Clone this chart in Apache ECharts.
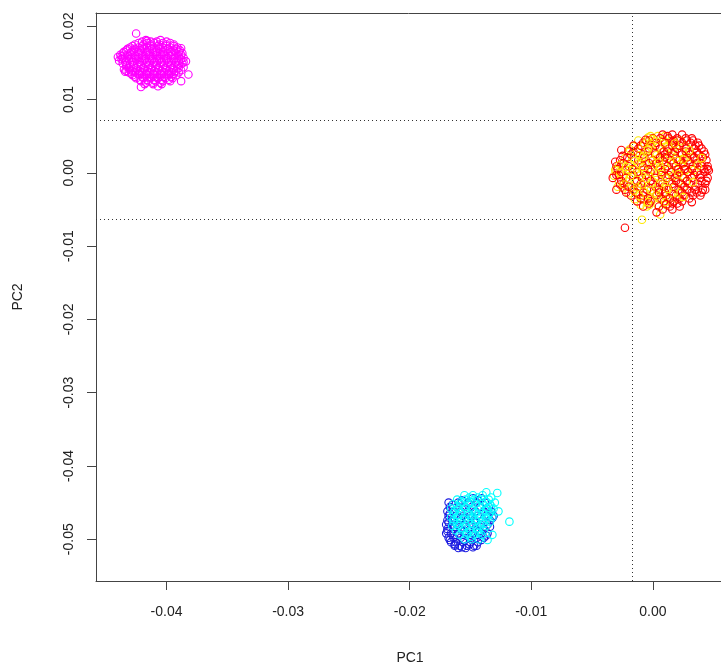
<!DOCTYPE html>
<html>
<head>
<meta charset="utf-8">
<script src="https://cdn.jsdelivr.net/npm/echarts@6/dist/echarts.min.js"></script>
<style>html,body{margin:0;padding:0;background:#fff}#c{width:721px;height:670px}</style>
</head>
<body>
<div id="c"></div>
<script>
// ---- data ----
var xTicks = [-0.04, -0.03, -0.02, -0.01, 0.00];
var yTicks = [-0.05, -0.04, -0.03, -0.02, -0.01, 0.00, 0.01, 0.02];
var hLines = [0.00723, -0.00628];
var vLines = [-0.0017];

var magenta = [
[-0.0417,0.0181],[-0.0405,0.0181],
[-0.0423,0.0177],[-0.0416,0.0177],[-0.0410,0.0177],[-0.0403,0.0177],[-0.0397,0.0177],
[-0.0428,0.0173],[-0.0420,0.0173],[-0.0413,0.0173],[-0.0407,0.0173],[-0.0400,0.0173],[-0.0394,0.0173],
[-0.0432,0.0169],[-0.0426,0.0169],[-0.0419,0.0169],[-0.0412,0.0169],[-0.0406,0.0169],[-0.0399,0.0169],[-0.0392,0.0169],[-0.0388,0.0170],
[-0.0435,0.0165],[-0.0429,0.0165],[-0.0423,0.0165],[-0.0416,0.0165],[-0.0409,0.0165],[-0.0403,0.0165],[-0.0396,0.0165],[-0.0390,0.0165],
[-0.0438,0.0161],[-0.0432,0.0161],[-0.0426,0.0161],[-0.0420,0.0161],[-0.0414,0.0161],[-0.0408,0.0161],[-0.0402,0.0161],[-0.0395,0.0161],[-0.0388,0.0161],
[-0.0436,0.0157],[-0.0429,0.0157],[-0.0423,0.0157],[-0.0417,0.0157],[-0.0411,0.0157],[-0.0405,0.0157],[-0.0399,0.0157],[-0.0393,0.0157],[-0.0386,0.0157],
[-0.0439,0.0153],[-0.0433,0.0153],[-0.0427,0.0153],[-0.0420,0.0153],[-0.0414,0.0153],[-0.0408,0.0153],[-0.0402,0.0153],[-0.0396,0.0153],[-0.0390,0.0153],[-0.0384,0.0152],
[-0.0436,0.0149],[-0.0430,0.0149],[-0.0424,0.0149],[-0.0417,0.0149],[-0.0411,0.0149],[-0.0405,0.0149],[-0.0399,0.0149],[-0.0393,0.0149],[-0.0387,0.0149],
[-0.0433,0.0145],[-0.0427,0.0145],[-0.0421,0.0145],[-0.0415,0.0145],[-0.0409,0.0145],[-0.0403,0.0145],[-0.0397,0.0145],[-0.0391,0.0145],[-0.0386,0.0144],
[-0.0435,0.0141],[-0.0430,0.0141],[-0.0424,0.0141],[-0.0418,0.0141],[-0.0412,0.0141],[-0.0406,0.0141],[-0.0400,0.0141],[-0.0394,0.0141],[-0.0388,0.0140],
[-0.0431,0.0137],[-0.0426,0.0137],[-0.0420,0.0137],[-0.0414,0.0137],[-0.0408,0.0137],[-0.0402,0.0137],[-0.0396,0.0137],[-0.0390,0.0137],
[-0.0428,0.0133],[-0.0422,0.0133],[-0.0416,0.0133],[-0.0410,0.0133],[-0.0404,0.0133],[-0.0398,0.0133],[-0.0392,0.0133],
[-0.0425,0.0129],[-0.0419,0.0129],[-0.0413,0.0129],[-0.0407,0.0129],[-0.0401,0.0129],[-0.0395,0.0129],
[-0.0421,0.0125],[-0.0415,0.0125],[-0.0409,0.0125],[-0.0403,0.0125],[-0.0397,0.0125],
[-0.0418,0.0121],[-0.0411,0.0121],[-0.0404,0.0121],
[-0.0420,0.0179],[-0.0413,0.0179],[-0.0408,0.0179],[-0.0400,0.0179],
[-0.0426,0.0175],[-0.0419,0.0175],[-0.0413,0.0175],[-0.0406,0.0175],[-0.0400,0.0175],[-0.0394,0.0175],
[-0.0430,0.0171],[-0.0423,0.0171],[-0.0416,0.0171],[-0.0410,0.0171],[-0.0403,0.0171],[-0.0397,0.0171],[-0.0391,0.0171],
[-0.0433,0.0167],[-0.0427,0.0167],[-0.0421,0.0167],[-0.0414,0.0167],[-0.0408,0.0167],[-0.0401,0.0167],[-0.0394,0.0167],[-0.0389,0.0167],
[-0.0436,0.0163],[-0.0430,0.0163],[-0.0423,0.0163],[-0.0417,0.0163],[-0.0411,0.0163],[-0.0405,0.0163],[-0.0399,0.0163],[-0.0392,0.0163],[-0.0387,0.0163],
[-0.0437,0.0159],[-0.0432,0.0159],[-0.0426,0.0159],[-0.0420,0.0159],[-0.0414,0.0159],[-0.0408,0.0159],[-0.0402,0.0159],[-0.0396,0.0159],[-0.0390,0.0159],
[-0.0437,0.0155],[-0.0431,0.0155],[-0.0425,0.0155],[-0.0418,0.0155],[-0.0412,0.0155],[-0.0406,0.0155],[-0.0400,0.0155],[-0.0394,0.0155],[-0.0388,0.0155],
[-0.0434,0.0151],[-0.0428,0.0151],[-0.0422,0.0151],[-0.0416,0.0151],[-0.0410,0.0151],[-0.0404,0.0151],[-0.0398,0.0151],[-0.0392,0.0151],[-0.0386,0.0151],
[-0.0433,0.0147],[-0.0427,0.0147],[-0.0421,0.0147],[-0.0414,0.0147],[-0.0408,0.0147],[-0.0402,0.0147],[-0.0396,0.0147],[-0.0390,0.0147],
[-0.0431,0.0143],[-0.0425,0.0143],[-0.0419,0.0143],[-0.0413,0.0143],[-0.0407,0.0143],[-0.0401,0.0143],[-0.0395,0.0143],[-0.0390,0.0143],
[-0.0433,0.0139],[-0.0428,0.0139],[-0.0422,0.0139],[-0.0416,0.0139],[-0.0410,0.0139],[-0.0404,0.0139],[-0.0398,0.0139],[-0.0392,0.0139],
[-0.0429,0.0135],[-0.0423,0.0135],[-0.0417,0.0135],[-0.0411,0.0135],[-0.0405,0.0135],[-0.0399,0.0135],[-0.0394,0.0135],
[-0.0426,0.0131],[-0.0420,0.0131],[-0.0414,0.0131],[-0.0408,0.0131],[-0.0402,0.0131],[-0.0396,0.0131],
[-0.0422,0.0127],[-0.0416,0.0127],[-0.0410,0.0127],[-0.0404,0.0127],[-0.0398,0.0127],
[-0.0417,0.0123],[-0.0411,0.0123],[-0.0405,0.0123],
[-0.0425,0.0190],[-0.0440,0.0158],[-0.0382,0.0134],[-0.0421,0.0117],[-0.0388,0.0125],[-0.0416,0.0180],[-0.0407,0.0118],[-0.0434,0.0138]
];

var yellow = [
[-0.0002,0.0050],[0.0004,0.0050],[0.0010,0.0050],
[-0.0012,0.0044],[-0.0005,0.0044],[0.0002,0.0044],[0.0009,0.0044],[0.0016,0.0044],[0.0023,0.0044],
[-0.0016,0.0036],[-0.0009,0.0036],[-0.0002,0.0036],[0.0005,0.0036],[0.0012,0.0036],[0.0019,0.0036],[0.0027,0.0036],
[-0.0020,0.0028],[-0.0013,0.0028],[-0.0006,0.0028],[0.0001,0.0028],[0.0008,0.0028],[0.0015,0.0028],[0.0022,0.0028],[0.0030,0.0028],
[-0.0023,0.0020],[-0.0016,0.0020],[-0.0009,0.0020],[-0.0002,0.0020],[0.0005,0.0020],[0.0012,0.0020],[0.0019,0.0020],[0.0026,0.0020],[0.0033,0.0020],
[-0.0026,0.0012],[-0.0019,0.0012],[-0.0012,0.0012],[-0.0005,0.0012],[0.0002,0.0012],[0.0009,0.0012],[0.0016,0.0012],[0.0023,0.0012],[0.0030,0.0012],
[-0.0030,0.0004],[-0.0022,0.0004],[-0.0015,0.0004],[-0.0008,0.0004],[-0.0001,0.0004],[0.0006,0.0004],[0.0013,0.0004],[0.0020,0.0004],[0.0027,0.0004],[0.0034,0.0004],
[-0.0032,-0.0004],[-0.0025,-0.0004],[-0.0018,-0.0004],[-0.0011,-0.0004],[-0.0004,-0.0004],[0.0003,-0.0004],[0.0010,-0.0004],[0.0017,-0.0004],[0.0024,-0.0004],[0.0031,-0.0004],
[-0.0028,-0.0012],[-0.0021,-0.0012],[-0.0014,-0.0012],[-0.0007,-0.0012],[0.0000,-0.0012],[0.0007,-0.0012],[0.0014,-0.0012],[0.0021,-0.0012],[0.0028,-0.0012],
[-0.0025,-0.0020],[-0.0017,-0.0020],[-0.0010,-0.0020],[-0.0003,-0.0020],[0.0004,-0.0020],[0.0011,-0.0020],[0.0018,-0.0020],[0.0025,-0.0020],
[-0.0020,-0.0028],[-0.0013,-0.0028],[-0.0006,-0.0028],[0.0001,-0.0028],[0.0008,-0.0028],[0.0015,-0.0028],[0.0022,-0.0028],
[-0.0015,-0.0036],[-0.0008,-0.0036],[-0.0001,-0.0036],[0.0006,-0.0036],[0.0013,-0.0036],[0.0020,-0.0036],
[-0.0010,-0.0044],[-0.0003,-0.0044],[0.0004,-0.0044],[0.0011,-0.0044],
[-0.0009,-0.0064],[0.0006,-0.0057],[-0.0005,-0.0046],[-0.0029,-0.0019],[-0.0031,0.0004],[-0.0004,0.0048],[0.0008,0.0045]
];

var red = [
[0.0008,0.0052],[0.0016,0.0052],[0.0024,0.0052],
[0.0000,0.0047],[0.0006,0.0047],[0.0013,0.0047],[0.0020,0.0047],[0.0027,0.0047],[0.0032,0.0047],
[-0.0008,0.0041],[0.0003,0.0041],[0.0010,0.0041],[0.0017,0.0041],[0.0024,0.0041],[0.0031,0.0041],[0.0037,0.0041],
[-0.0012,0.0033],[-0.0003,0.0033],[0.0006,0.0033],[0.0013,0.0033],[0.0020,0.0033],[0.0027,0.0033],[0.0034,0.0033],[0.0040,0.0033],
[-0.0018,0.0025],[-0.0008,0.0025],[0.0002,0.0025],[0.0010,0.0025],[0.0017,0.0025],[0.0024,0.0025],[0.0031,0.0025],[0.0038,0.0025],[0.0043,0.0025],
[-0.0027,0.0017],[-0.0012,0.0017],[0.0000,0.0017],[0.0008,0.0017],[0.0015,0.0017],[0.0022,0.0017],[0.0029,0.0017],[0.0036,0.0017],[0.0044,0.0017],
[-0.0030,0.0009],[-0.0020,0.0009],[-0.0008,0.0009],[0.0004,0.0009],[0.0012,0.0009],[0.0019,0.0009],[0.0026,0.0009],[0.0033,0.0009],[0.0040,0.0009],[0.0045,0.0009],
[-0.0026,0.0001],[-0.0013,0.0001],[-0.0002,0.0001],[0.0007,0.0001],[0.0015,0.0001],[0.0022,0.0001],[0.0029,0.0001],[0.0036,0.0001],[0.0043,0.0001],[0.0046,0.0003],
[-0.0033,-0.0007],[-0.0022,-0.0007],[-0.0009,-0.0007],[0.0002,-0.0007],[0.0011,-0.0007],[0.0018,-0.0007],[0.0025,-0.0007],[0.0032,-0.0007],[0.0039,-0.0007],[0.0045,-0.0007],
[-0.0024,-0.0015],[-0.0010,-0.0015],[0.0000,-0.0015],[0.0008,-0.0015],[0.0016,-0.0015],[0.0023,-0.0015],[0.0030,-0.0015],[0.0037,-0.0015],[0.0043,-0.0015],
[-0.0030,-0.0023],[-0.0016,-0.0023],[-0.0005,-0.0023],[0.0005,-0.0023],[0.0013,-0.0023],[0.0021,-0.0023],[0.0028,-0.0023],[0.0035,-0.0023],[0.0041,-0.0023],
[-0.0018,-0.0031],[-0.0008,-0.0031],[0.0003,-0.0031],[0.0011,-0.0031],[0.0019,-0.0031],[0.0026,-0.0031],[0.0033,-0.0031],[0.0039,-0.0031],
[-0.0013,-0.0039],[-0.0002,-0.0039],[0.0009,-0.0039],[0.0017,-0.0039],[0.0024,-0.0039],[0.0032,-0.0040],
[-0.0008,-0.0046],[0.0005,-0.0046],[0.0014,-0.0046],[0.0022,-0.0046],
[-0.0023,-0.0075],[0.0003,-0.0054],[0.0016,-0.0050],[0.0008,-0.0050],[-0.0026,0.0031],[-0.0020,0.0030],[-0.0031,0.0015],[-0.0027,-0.0016],[-0.0023,-0.0023],[0.0043,-0.0023]
];

var yellow2 = [
[-0.0019,0.0032],[-0.0011,0.0024],[-0.0004,0.0032],[0.0003,0.0024],[-0.0022,0.0008],[-0.0015,0.0016],[-0.0008,0.0008],[-0.0001,0.0016],
[0.0006,0.0008],[-0.0027,0.0000],[-0.0019,-0.0008],[-0.0012,0.0000],[-0.0005,-0.0008],[0.0002,0.0000],[-0.0024,-0.0016],[-0.0016,-0.0024],
[-0.0009,-0.0016],[-0.0002,-0.0024],[0.0005,-0.0016],[-0.0011,-0.0032],[-0.0004,-0.0040],[0.0003,-0.0032],[0.0010,-0.0040],[0.0009,0.0040],
[0.0014,0.0024],[0.0011,-0.0008],[-0.0007,0.0040],[0.0000,0.0046],[0.0017,-0.0028],[0.0020,0.0016]
];

var red2 = [
[0.0012,0.0050],[0.0020,0.0044],[0.0028,0.0044],[0.0035,0.0037],[0.0042,0.0029],[0.0027,0.0029],[0.0034,0.0021],[0.0040,0.0013],
[0.0045,0.0005],[0.0025,0.0013],[0.0032,0.0005],[0.0039,-0.0003],[0.0044,-0.0011],[0.0028,-0.0011],[0.0035,-0.0019],[0.0040,-0.0027],
[0.0024,-0.0027],[0.0030,-0.0035],[0.0020,-0.0042],[0.0011,-0.0043],[0.0017,-0.0019],[0.0014,-0.0035],[0.0005,-0.0027],[-0.0004,-0.0035],
[-0.0014,-0.0027],[-0.0020,-0.0019],[-0.0028,-0.0003],[-0.0025,0.0023],[-0.0016,0.0037],[-0.0006,0.0045],[0.0016,0.0037],[0.0009,0.0029],
[0.0021,0.0005],[0.0013,-0.0003],[0.0006,0.0021],[-0.0003,0.0013],[0.0018,0.0029],[0.0032,-0.0027]
];

var yellow3 = [
[0.0018,0.0040],[0.0030,0.0031],[0.0025,0.0018],[0.0037,0.0010],[0.0021,-0.0002],[0.0033,-0.0013],[0.0025,-0.0033],[0.0012,-0.0022],
[-0.0008,0.0022],[-0.0019,0.0004],[-0.0013,-0.0020],[0.0005,0.0014],[-0.0002,0.0040],[-0.0028,0.0010],[0.0040,0.0020]
];

var red3 = [
[-0.0003,0.0044],[0.0017,0.0044],[0.0033,0.0044],
[-0.0010,0.0037],[0.0002,0.0037],[0.0022,0.0037],[0.0038,0.0037],
[-0.0016,0.0029],[-0.0004,0.0029],[0.0012,0.0029],[0.0036,0.0029],
[-0.0021,0.0021],[-0.0007,0.0021],[0.0010,0.0021],[0.0028,0.0021],[0.0041,0.0021],
[-0.0024,0.0013],[-0.0010,0.0013],[0.0003,0.0013],[0.0017,0.0013],[0.0036,0.0013],
[-0.0029,0.0005],[-0.0017,0.0005],[-0.0004,0.0005],[0.0010,0.0005],[0.0026,0.0005],[0.0042,0.0005],
[-0.0030,-0.0003],[-0.0016,-0.0003],[-0.0006,-0.0003],[0.0007,-0.0003],[0.0020,-0.0003],[0.0034,-0.0003],
[-0.0026,-0.0011],[-0.0013,-0.0011],[-0.0002,-0.0011],[0.0019,-0.0011],[0.0040,-0.0011],
[-0.0012,-0.0019],[0.0002,-0.0019],[0.0009,-0.0019],[0.0026,-0.0019],
[-0.0022,-0.0027],[-0.0008,-0.0027],[0.0010,-0.0027],[0.0036,-0.0027],
[-0.0010,-0.0035],[0.0007,-0.0035],[0.0022,-0.0035],
[-0.0003,-0.0042],[0.0016,-0.0042]
];

var blue = [
[-0.0148,-0.0444],[-0.0141,-0.0444],
[-0.0168,-0.0450],[-0.0160,-0.0450],[-0.0152,-0.0450],[-0.0145,-0.0450],[-0.0138,-0.0450],
[-0.0167,-0.0456],[-0.0161,-0.0456],[-0.0155,-0.0456],[-0.0149,-0.0456],[-0.0142,-0.0456],[-0.0135,-0.0456],
[-0.0169,-0.0462],[-0.0164,-0.0462],[-0.0158,-0.0462],[-0.0152,-0.0462],[-0.0146,-0.0462],[-0.0139,-0.0462],[-0.0133,-0.0462],
[-0.0168,-0.0468],[-0.0162,-0.0468],[-0.0156,-0.0468],[-0.0150,-0.0468],[-0.0144,-0.0468],[-0.0137,-0.0468],[-0.0131,-0.0468],
[-0.0169,-0.0474],[-0.0165,-0.0474],[-0.0159,-0.0474],[-0.0153,-0.0474],[-0.0147,-0.0474],[-0.0140,-0.0474],[-0.0134,-0.0474],
[-0.0170,-0.0480],[-0.0165,-0.0480],[-0.0161,-0.0480],[-0.0155,-0.0480],[-0.0149,-0.0480],[-0.0142,-0.0480],[-0.0136,-0.0480],
[-0.0169,-0.0486],[-0.0164,-0.0486],[-0.0158,-0.0486],[-0.0152,-0.0486],[-0.0146,-0.0486],[-0.0139,-0.0486],
[-0.0170,-0.0492],[-0.0166,-0.0492],[-0.0160,-0.0492],[-0.0154,-0.0492],[-0.0148,-0.0492],[-0.0141,-0.0492],[-0.0136,-0.0492],
[-0.0168,-0.0498],[-0.0164,-0.0498],[-0.0158,-0.0498],[-0.0151,-0.0498],[-0.0145,-0.0498],[-0.0139,-0.0498],
[-0.0166,-0.0504],[-0.0162,-0.0504],[-0.0156,-0.0504],[-0.0150,-0.0504],[-0.0144,-0.0504],
[-0.0163,-0.0509],[-0.0159,-0.0509],[-0.0153,-0.0509],[-0.0147,-0.0509],
[-0.0160,-0.0512],[-0.0154,-0.0512],[-0.0148,-0.0511],
[-0.0165,-0.0453],[-0.0157,-0.0447],[-0.0167,-0.0465],[-0.0168,-0.0477],[-0.0169,-0.0489],[-0.0167,-0.0501],[-0.0163,-0.0507],[-0.0157,-0.0511],
[-0.0151,-0.0507],[-0.0145,-0.0509],[-0.0141,-0.0501],[-0.0137,-0.0495],[-0.0161,-0.0495],[-0.0155,-0.0489],[-0.0149,-0.0495],[-0.0143,-0.0489],
[-0.0134,-0.0483],[-0.0132,-0.0471],[-0.0136,-0.0459],[-0.0144,-0.0447],[-0.0152,-0.0453],[-0.0158,-0.0471],[-0.0146,-0.0477],[-0.0163,-0.0483]
];

var cyan = [
[-0.0155,-0.0440],[-0.0148,-0.0440],[-0.0140,-0.0440],
[-0.0161,-0.0446],[-0.0154,-0.0446],[-0.0147,-0.0446],[-0.0141,-0.0446],[-0.0135,-0.0446],
[-0.0164,-0.0452],[-0.0158,-0.0452],[-0.0152,-0.0452],[-0.0146,-0.0452],[-0.0140,-0.0452],[-0.0134,-0.0452],
[-0.0166,-0.0458],[-0.0160,-0.0458],[-0.0154,-0.0458],[-0.0148,-0.0458],[-0.0142,-0.0458],[-0.0136,-0.0458],[-0.0131,-0.0458],
[-0.0164,-0.0464],[-0.0158,-0.0464],[-0.0152,-0.0464],[-0.0146,-0.0464],[-0.0140,-0.0464],[-0.0134,-0.0464],
[-0.0166,-0.0470],[-0.0161,-0.0470],[-0.0155,-0.0470],[-0.0149,-0.0470],[-0.0143,-0.0470],[-0.0137,-0.0470],[-0.0132,-0.0470],
[-0.0164,-0.0476],[-0.0158,-0.0476],[-0.0152,-0.0476],[-0.0146,-0.0476],[-0.0140,-0.0476],[-0.0134,-0.0476],
[-0.0165,-0.0482],[-0.0160,-0.0482],[-0.0154,-0.0482],[-0.0148,-0.0482],[-0.0142,-0.0482],[-0.0137,-0.0482],
[-0.0162,-0.0488],[-0.0156,-0.0488],[-0.0150,-0.0488],[-0.0144,-0.0488],[-0.0139,-0.0488],
[-0.0159,-0.0494],[-0.0153,-0.0494],[-0.0147,-0.0494],[-0.0141,-0.0494],
[-0.0155,-0.0500],[-0.0149,-0.0500],[-0.0143,-0.0500],
[-0.0151,-0.0443],[-0.0144,-0.0443],[-0.0158,-0.0449],[-0.0150,-0.0449],[-0.0137,-0.0449],[-0.0161,-0.0455],[-0.0155,-0.0455],[-0.0143,-0.0455],
[-0.0133,-0.0455],[-0.0163,-0.0461],[-0.0149,-0.0461],[-0.0137,-0.0461],[-0.0160,-0.0467],[-0.0152,-0.0467],[-0.0143,-0.0467],[-0.0135,-0.0467],
[-0.0164,-0.0473],[-0.0155,-0.0473],[-0.0146,-0.0473],[-0.0137,-0.0473],[-0.0161,-0.0479],[-0.0149,-0.0479],[-0.0139,-0.0479],[-0.0157,-0.0485],
[-0.0145,-0.0485],[-0.0153,-0.0491],[-0.0143,-0.0491],[-0.0150,-0.0497],[-0.0133,-0.0443],[-0.0130,-0.0450],
[-0.0128,-0.0437],[-0.0137,-0.0436],[-0.0118,-0.0476],[-0.0132,-0.0494],[-0.0127,-0.0462],[-0.0136,-0.0501]
];

// ---- chart ----
var chart = echarts.init(document.getElementById('c'), null, {renderer: 'canvas'});
var FONT = '"Liberation Sans", Arial, sans-serif';
function pts(name, data, color) {
  return {
    name: name, type: 'scatter', data: data, symbol: 'circle', symbolSize: 7.5,
    itemStyle: {color: 'rgba(0,0,0,0)', borderColor: color, borderWidth: 1.1, opacity: 1},
    silent: true, animation: false
  };
}
var lineData = hLines.map(function (v) { return {yAxis: v}; })
  .concat(vLines.map(function (v) { return {xAxis: v}; }));
var fmt = function (v) { return Number(v).toFixed(2); };

chart.setOption({
  animation: false,
  backgroundColor: '#ffffff',
  grid: {left: 96, top: 13, right: 0, bottom: 89, containLabel: false},
  xAxis: [{
    type: 'value', min: -0.0458, max: 0.0056, position: 'bottom',
    axisLine: {show: true, onZero: false, lineStyle: {color: '#444', width: 1}},
    axisTick: {show: true, length: 9, customValues: xTicks, lineStyle: {color: '#444'}},
    axisLabel: {customValues: xTicks, formatter: fmt, margin: 24, color: '#222', fontSize: 14, fontFamily: FONT},
    splitLine: {show: false}
  }, {
    type: 'value', min: -0.0458, max: 0.0056, position: 'top',
    axisLine: {show: true, onZero: false, lineStyle: {color: '#444', width: 1}},
    axisTick: {show: false}, axisLabel: {show: false}, splitLine: {show: false}
  }],
  yAxis: [{
    type: 'value', min: -0.0557, max: 0.0218, position: 'left',
    axisLine: {show: true, onZero: false, lineStyle: {color: '#444', width: 1}},
    axisTick: {show: true, length: 9, customValues: yTicks, lineStyle: {color: '#444'}},
    axisLabel: {customValues: yTicks, formatter: fmt, rotate: 90, margin: 20, color: '#222', fontSize: 14, fontFamily: FONT},
    splitLine: {show: false}
  }],
  graphic: [
    {type: 'text', style: {text: 'PC1', font: '14px ' + FONT, fill: '#222', textAlign: 'center', textVerticalAlign: 'middle'}, x: 410, y: 658},
    {type: 'text', style: {text: 'PC2', font: '14px ' + FONT, fill: '#222', textAlign: 'center', textVerticalAlign: 'middle'}, x: 18, y: 297, rotation: Math.PI / 2}
  ],
  series: [
    pts('magenta', magenta, '#FF00FF'),
    pts('yellow', yellow, '#FFE800'),
    pts('red', red, '#FF0000'),
    pts('red3', red3, '#FF0000'),
    pts('yellow2', yellow2, '#FFE800'),
    pts('red2', red2, '#FF0000'),
    pts('yellow3', yellow3, '#FFE800'),
    pts('blue', blue, '#1A1AE0'),
    pts('cyan', cyan, '#00FFFF'),
    {
      type: 'scatter', data: [], silent: true, z: 5,
      markLine: {
        silent: true, symbol: 'none', animation: false, precision: 6,
        label: {show: false},
        lineStyle: {type: [1, 3], color: '#333', width: 1},
        data: lineData
      }
    }
  ]
});
</script>
</body>
</html>
